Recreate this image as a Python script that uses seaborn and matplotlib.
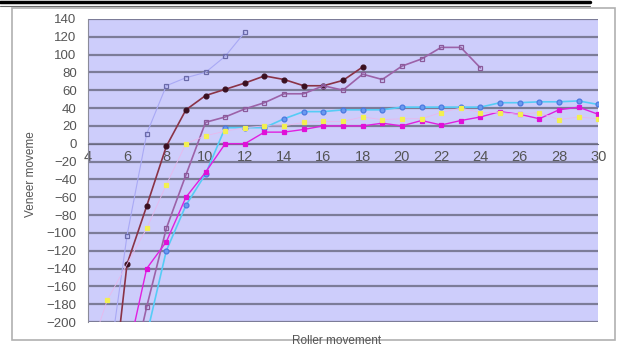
import seaborn as sns
import matplotlib.pyplot as plt
import matplotlib.lines as mlines
import matplotlib.patches as mpatches
import pandas as pd

# series values (points below -200 are estimates of where the lines leave the plot)
x_a = [5, 6, 7, 8, 9, 10, 11, 12]
y_a = [-260, -103, 11, 65, 74, 80, 98, 125]

x_b = [5, 6, 7, 8, 9, 10, 11, 12, 13, 14, 15, 16, 17, 18]
y_b = [-330, -135, -70, -3, 38, 54, 61, 68, 76, 72, 65, 65, 71, 86]

x_c = [6, 7, 8, 9, 10, 11, 12, 13, 14, 15, 16, 17, 18, 19, 20, 21, 22, 23, 24]
y_c = [-280, -183, -95, -35, 24, 30, 39, 46, 56, 56, 65, 60, 78, 72, 87, 95, 108, 108, 85]

x_d = list(range(6, 31))
y_d = [-300, -215, -120, -69, -34, 18, 18, 18, 28, 36, 36, 38, 38, 38, 41, 41, 41, 41, 41,
       46, 46, 47, 47, 48, 44]

x_e = list(range(6, 31))
y_e = [-240, -140, -110, -60, -32, 0, 0, 13, 13, 16, 20, 20, 20, 23, 20, 26, 21, 26, 30,
       36, 33, 28, 38, 41, 33]

x_f = [4, 5, 7, 8, 9, 10, 11, 12, 13, 14, 15, 16, 17, 18, 19, 20, 21, 22, 23, 24, 25, 26,
       27, 28, 29, 30]
y_f = [-240, -175, -95, -46, 0, 9, 14, 18, 20, 20, 24, 25, 25, 30, 27, 28, 28, 35, 40, 35,
       35, 33, 35, 27, 30, 28]

x_ticks = list(range(4, 31, 2))
y_ticks = list(range(-200, 141, 20))

sns.set_style("white")
plt.rcParams['font.family'] = ['Liberation Sans', 'DejaVu Sans']

fig, ax = plt.subplots(figsize=(6.18, 3.49), dpi=100)
fig.subplots_adjust(left=0.142, right=0.968, top=0.946, bottom=0.077)
ax.set_facecolor("#cdcdfb")

# horizontal gridlines
for v in y_ticks:
    ax.axhline(v, color="#7c7c98", lw=1.6, zorder=1)

# each series: (x, y, line colour, marker colour, marker face, marker, line width)
series = [
    (x_a, y_a, "#a9a9f5", "#6a6aa8", "none", "s", 0.8),
    (x_b, y_b, "#8a3346", "#3a1020", "#3a1020", "o", 1.2),
    (x_c, y_c, "#9c62a8", "#8a5a9a", "none", "s", 1.2),
    (x_d, y_d, "#55ccf6", "#4a78e0", "#6a9af0", "o", 1.2),
    (x_e, y_e, "#e020e0", "#e010d8", "#e010d8", "s", 1.0),
    (x_f, y_f, "#e8b8ec", "#f2f050", "#f2f050", "s", 0.6),
]
for xs, ys, lc, mc, mf, mk, lw in series:
    df = pd.DataFrame({"x": xs, "y": ys})
    sns.lineplot(data=df, x="x", y="y", ax=ax, color=lc, lw=lw, marker=mk,
                 markersize=3.5, markeredgecolor=mc, markerfacecolor=mf,
                 markeredgewidth=0.9, zorder=3)

ax.set_xlim(4, 30)
ax.set_ylim(-200, 140)
ax.set_xticks(x_ticks)
ax.set_yticks(y_ticks)
ax.set_yticklabels([str(v).replace("-", "\u2212") for v in y_ticks])

ax.spines["bottom"].set_position(("data", 0))
ax.spines["bottom"].set_color("#6a6a80")
ax.spines["left"].set_color("#8a8a9a")
ax.spines["top"].set_visible(False)
ax.spines["right"].set_visible(False)
ax.tick_params(axis="x", direction="inout", length=5, color="#555566",
               labelsize=10.5, labelcolor="#555555", pad=2)
ax.tick_params(axis="y", length=0, labelsize=9.5, labelcolor="#555555", pad=8)

ax.set_xlabel("")
ax.set_ylabel("")
fig.text(0.545, 0.022, "Roller movement", ha="center", va="center",
         fontsize=8.5, color="#555555")
fig.text(0.05, 0.5, "Veneer moveme", ha="center", va="center", rotation=90,
         fontsize=8.5, color="#555555")

# chart frame and top rule
fig.add_artist(mpatches.Rectangle((0.02, 0.025), 0.975, 0.952, transform=fig.transFigure,
                                  fill=False, edgecolor="#b0b0b0", lw=1.2))
fig.add_artist(mlines.Line2D([0, 0.955], [0.993, 0.993], transform=fig.transFigure,
                             color="black", lw=2.5))
fig.add_artist(mlines.Line2D([0, 0.955], [0.982, 0.982], transform=fig.transFigure,
                             color="#666666", lw=0.8))

plt.savefig("out.png", dpi=100)
